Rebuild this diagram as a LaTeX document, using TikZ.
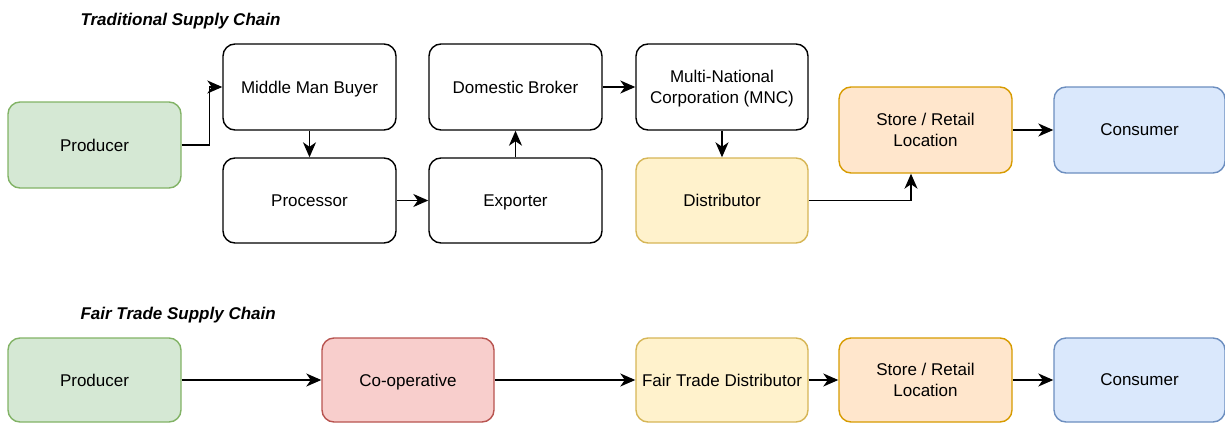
\documentclass[tikz,border=0pt]{standalone}
\usepackage{fontspec}
\setmainfont{Liberation Sans}
\usetikzlibrary{arrows.meta}
\definecolor{greenfill}{HTML}{D5E8D4}\definecolor{greenline}{HTML}{82B366}
\definecolor{redfill}{HTML}{F8CECC}\definecolor{redline}{HTML}{B85450}
\definecolor{yellowfill}{HTML}{FFF2CC}\definecolor{yellowline}{HTML}{D6B656}
\definecolor{orangefill}{HTML}{FFE6CC}\definecolor{orangeline}{HTML}{D79B00}
\definecolor{bluefill}{HTML}{DAE8FC}\definecolor{blueline}{HTML}{6C8EBF}
\tikzset{
  stagebox/.style={draw, rounded corners=12pt, line width=1.4pt, fill=white,
    minimum width=173pt, minimum height=86pt, align=center, inner sep=2pt,
    text depth=0pt, font=\fontsize{17}{21}\selectfont},
  green/.style={stagebox, fill=greenfill, draw=greenline},
  red/.style={stagebox, fill=redfill, draw=redline},
  yellow/.style={stagebox, fill=yellowfill, draw=yellowline},
  orange/.style={stagebox, fill=orangefill, draw=orangeline},
  blue/.style={stagebox, fill=bluefill, draw=blueline},
  flow/.style={line width=1.5pt, -{Stealth[length=15pt,width=13pt,inset=4.5pt]}},
  heading/.style={anchor=west, font=\fontsize{17}{20}\selectfont\bfseries\itshape}
}
\begin{document}
\begin{tikzpicture}[x=1pt,y=-1pt]
\useasboundingbox (0,0) rectangle (1225,423);

% Traditional supply chain
\node[heading] (t1) at (77,21) {Traditional Supply Chain};
\node[green] (prod1) at (94.5,145) {Producer};
\node[stagebox] (mmb) at (309.5,87) {Middle Man Buyer};
\node[stagebox, minimum height=85pt] (proc) at (309.5,200.5) {Processor};
\node[stagebox] (broker) at (515.5,87) {Domestic Broker};
\node[stagebox, minimum height=85pt] (exp) at (515.5,200.5) {Exporter};
\node[stagebox, minimum width=172pt] (mnc) at (722,87) {Multi-National\\Corporation (MNC)};
\node[yellow, minimum width=172pt, minimum height=85pt] (dist1) at (722,200.5) {Distributor};
\node[orange] (store1) at (925.5,130) {Store / Retail\\Location};
\node[blue, minimum width=171pt] (cons1) at (1139.5,130) {Consumer};

\draw[flow] (prod1.east) -- ++(28,0) |- (mmb.west);
\draw[flow] (mmb) -- (proc);
\draw[flow] (proc) -- (exp);
\draw[flow] (exp) -- (broker);
\draw[flow] (broker) -- (mnc);
\draw[flow] (mnc) -- (dist1);
\draw[flow] (dist1.east) -| ([xshift=-14.5pt]store1.south);
\draw[flow] (store1) -- (cons1);

% Fair trade supply chain
\node[heading] (t2) at (77,315) {Fair Trade Supply Chain};
\node[green, minimum height=84pt] (prod2) at (94.5,380) {Producer};
\node[red, minimum width=172pt, minimum height=84pt] (coop) at (408,380) {Co-operative};
\node[yellow, minimum width=172pt, minimum height=84pt] (dist2) at (722,380) {Fair Trade Distributor};
\node[orange, minimum height=84pt] (store2) at (925.5,380) {Store / Retail\\Location};
\node[blue, minimum width=171pt, minimum height=84pt] (cons2) at (1139.5,380) {Consumer};

\draw[flow] (prod2) -- (coop);
\draw[flow] (coop) -- (dist2);
\draw[flow] (dist2) -- (store2);
\draw[flow] (store2) -- (cons2);
\end{tikzpicture}
\end{document}
